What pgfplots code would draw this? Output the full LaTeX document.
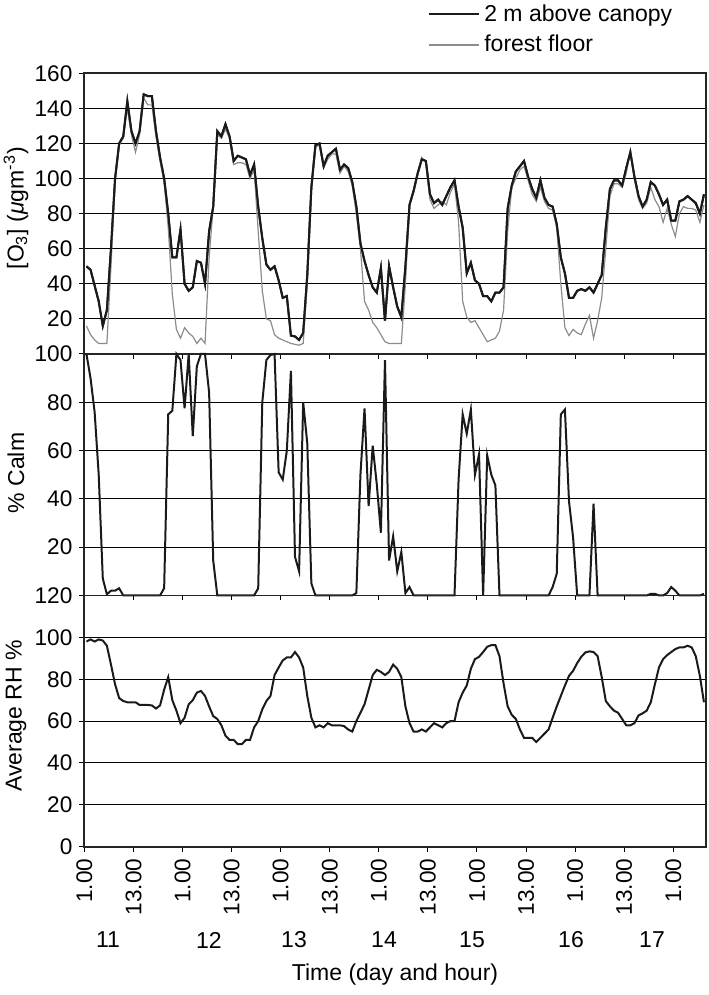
\documentclass[border=0pt]{standalone}
\usepackage{pgfplots}
\pgfplotsset{compat=1.18}
\usepackage{pgfplotstable}
\usepackage{fontspec}
\setmainfont{Liberation Sans}

\pgfplotstableread{
a f c r
50 16 100 98
48 11 90 99
39 8 76 98
30 6 50 99
16 6 7 98.5
25 6 0.5 96
60 50 2 87
100 98 2 77.6
120 119 3 71
124 123 0 69.6
144 140 0 69
127 125 0 69
120 115 0 69
127 125 0 67.7
148 146 0 67.7
147 142 0 67.7
147 142 0 67.5
127 124 0 66
112 110 0 67.5
100 98 3 75
80 72 75 81
55 34 76.5 70
55 14 100 65
71 9 97.5 59
40 15 77.5 61.6
36 12 100 68
38 10 66 70
53 6 95 73.6
52 9 100 74.4
40 6 100 72
70 55 84 67
84 84 14.5 62.4
127 125 0 61
124 123 0 58
131 128 0 53
124 123 0 51
110 108 0 51
113 109 0 49
112 109 0 49
111 108 0 51
102 100 0 51
108 105 0 57
84 70 3 60
66 36 80 65.6
51 20 97.5 69.6
48 19 99.6 72
50 11 100 82
42 9 51 85.6
32 8 48 89
33 7 60 90.4
10.5 6 93 90.4
10 5.5 16 93
8 5 10 90.4
12 6 80 85.6
45 40 63 72
95 95 5 61.6
119 118 0 57
120 119 0 58
107 106 0 57
113 111 0 59
115 114 0 58
117 114 0 58
105 103 0 58
108 107 0 57.6
106 104 0 56
98 96 0 55
84 80 1 60
63 60 50 64
53 30 77.5 68
45 25 37 75
38 18 62 82
35 15 46 84.5
49 11 26 83.5
19 7 97.5 82
50 6 14.5 83.5
38 6 24.5 87
27 6 10 85
21 6 18 81
50 40 1 67
85 85 3.5 59
93 92 0 55
103 102 0 55
111 112 0 56
110 109 0 55
91 88 0 57
86 83 0 59
88 85 0 58
85 87 0 57
90 85 0 59
95 92 0 60
99 97 0 60
84 75 48 69
72 30 75 73.6
46 21 67 77
52 18 77 85
42 19 50 89.6
40 15 58.5 90.7
33 11 0 93
33 7 58 95.5
30 8 50 96.3
35 9 45.6 96.3
35 13 0 91
38 25 0 78
83 70 0 67
96 95 0 63
104 100 0 61
107 105 0 56
110 107 0 52
101 99 0 52
94 91 0 52
89 87 0 50
99 95 0 52
89 87 0 54
85 83 0 56
84 82 3.5 61.6
74 72 9 67
55 40 75 72
46 15 77 77
32 10.5 39 81.6
32 14 24 84
36 12 0 87.7
37 11 0 90.7
36 17 0 92.8
38 22 0 93.3
35 9 38 93
40 19 0 91
45 32 0 81
72 60 0 69.6
94 90 0 67
99 97 0 65
99 97 0 64
96 95 0 61
106 103 0 58
115 116 0 58
101 100 0 59
90 88 0 62.7
84 83 0 63.7
88 86 0 65
98 95 0.7 69
96 88 0.7 77.6
91 84 0 85.6
85 75 0 89.6
88 83 1 91.5
76 74 3.5 93
76 67 2 94.4
87 80 0 95.2
88 84 0 95.2
90 83 0 96
88 83 0 95.2
86 82 0 91
80 75 0 81.6
91 85 0.7 69
}\data

\definecolor{dk}{HTML}{1A1A1A}
\definecolor{gr}{HTML}{8C8C8C}

\begin{document}
\begin{tikzpicture}[font=\fontsize{11.5}{13.5}\selectfont]
\pgfplotsset{
  panel/.style={
    scale only axis, width=310.8pt, anchor=south west,
    xmin=0, xmax=152, xtick={0,12,...,144},
    tick align=outside, xtick pos=bottom, ytick pos=left,
    major tick length=2.5pt,
    ymajorgrids, grid style={black, line width=0.5pt},
    axis line style={black!85, line width=0.9pt},
    tick style={black, line width=0.5pt},
    clip=false,
    xticklabels={},
    yticklabel style={font=\fontsize{11.3}{13}\selectfont},
    xticklabel style={font=\fontsize{11.3}{13}\selectfont},
  },
}
\path[use as bounding box] (0,0) rectangle (354pt,497.5pt);

% top panel: ozone
\begin{axis}[panel, at={(42.2pt,320.5pt)}, height=140.35pt,
  ymin=0, ymax=160, ytick={0,20,...,160},
  yticklabels={{},20,40,60,80,100,120,140,160},
  legend style={at={(0.543,1)}, anchor=south west, yshift=5pt,
    draw=none, fill=none, font=\fontsize{11.5}{13.5}\selectfont,
    row sep=1.5pt},
  legend cell align=left,
  legend image code/.code={\draw[#1] (0pt,0pt) -- (25pt,0pt);},
]
\addplot[dk, line width=1pt] table[x expr=\coordindex+0.5, y=a]{\data};
\addlegendentry{2 m above canopy}
\addplot[gr, line width=0.6pt] table[x expr=\coordindex+0.5, y=f]{\data};
\addlegendentry{forest floor}
\addplot[dk, line width=1pt, forget plot] table[x expr=\coordindex+0.5, y=a]{\data};
\end{axis}

% middle panel: % calm
\begin{axis}[panel, at={(42.2pt,199.75pt)}, height=120.75pt,
  ymin=0, ymax=100, ytick={0,20,...,100},
  yticklabels={{},20,40,60,80,100},
]
\addplot[dk, line width=1pt] table[x expr=\coordindex+0.5, y=c]{\data};
\end{axis}

% bottom panel: RH
\begin{axis}[panel, at={(42.2pt,74.15pt)}, height=125.6pt,
  ymin=0, ymax=120, ytick={0,20,...,120},
  yticklabels={0,20,40,60,80,100,120},
  xticklabels={1.00,13.00,1.00,13.00,1.00,13.00,1.00,13.00,1.00,13.00,1.00,13.00,1.00},
  xticklabel style={rotate=90, anchor=east},
]
\addplot[dk, line width=1pt] table[x expr=\coordindex+0.5, y=r]{\data};
\end{axis}

% axis titles
\node[rotate=90] at (8pt,393.4pt) {[O\textsubscript{3}] ({\itshape μ}gm\textsuperscript{-3})};
\node[rotate=90] at (8pt,261pt) {\% Calm};
\node[rotate=90] at (8pt,139.5pt) {Average RH \%};

% day labels
\node at (54pt,27.5pt) {11};
\node at (104.5pt,27.5pt) {12};
\node at (147pt,27.5pt) {13};
\node at (192pt,27.5pt) {14};
\node at (236pt,27.5pt) {15};
\node at (285.5pt,27.5pt) {16};
\node at (326pt,27.5pt) {17};
\node at (197.5pt,10pt) {Time (day and hour)};
\end{tikzpicture}
\end{document}
